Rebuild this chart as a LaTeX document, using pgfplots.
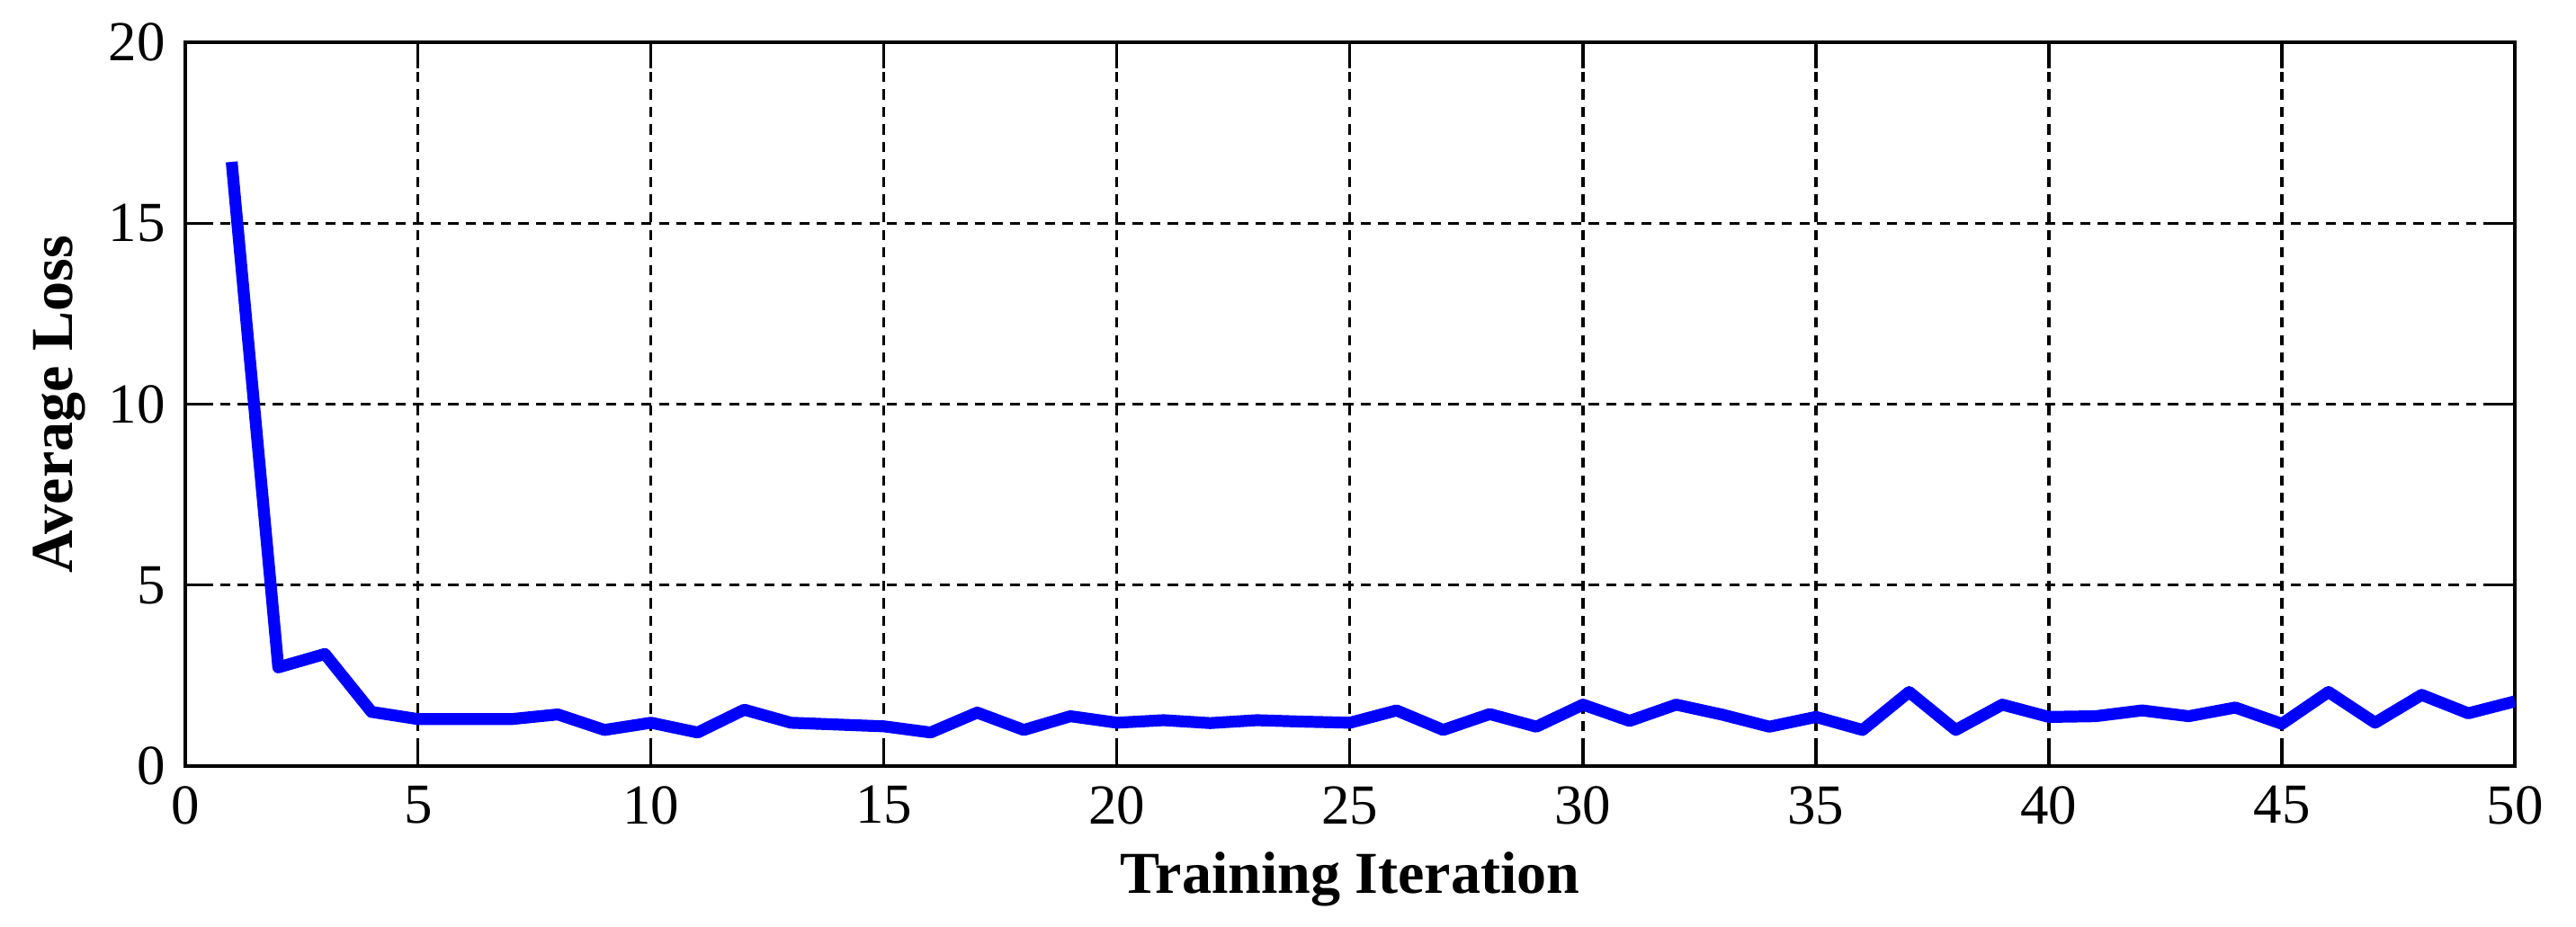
\documentclass[border=0pt]{standalone}
\usepackage{fontspec}
\setmainfont{Liberation Serif}
\usepackage{pgfplots}
\pgfplotsset{compat=1.18}

\pgfplotstableread{
it loss
1 16.7
2 2.73
3 3.10
4 1.50
5 1.30
6 1.30
7 1.30
8 1.43
9 1.00
10 1.20
11 0.93
12 1.56
13 1.20
14 1.15
15 1.10
16 0.93
17 1.48
18 1.00
19 1.38
20 1.20
21 1.27
22 1.19
23 1.27
24 1.23
25 1.20
26 1.54
27 1.00
28 1.44
29 1.09
30 1.70
31 1.25
32 1.70
33 1.42
34 1.09
35 1.36
36 1.00
37 2.05
38 1.00
39 1.70
40 1.36
41 1.38
42 1.54
43 1.38
44 1.62
45 1.17
46 2.05
47 1.20
48 1.97
49 1.46
50 1.79
}\losstable

\begin{document}
\begin{tikzpicture}
  % page size fixed to the reference's margins around the axis box
  \path[use as bounding box] (-32.7pt,-28.4pt) rectangle (422.4pt,135.4pt);
  \begin{axis}[
      scale only axis,
      width=411.6pt, height=127.9pt,
      xmin=0, xmax=50, ymin=0, ymax=20,
      xtick={0,5,...,50}, ytick={0,5,...,20},
      tick align=inside,
      major tick length=4.6pt,
      tick style={black, line width=0.5pt},
      axis line style={black, line width=0.65pt},
      xmajorgrids, ymajorgrids,
      grid style={black, line width=0.5pt, dash pattern=on 1.8pt off 1.3pt},
      ticklabel style={font=\fontsize{10}{12}\selectfont},
      /pgf/number format/assume math mode=true,
      xlabel={Training Iteration},
      ylabel={Average Loss},
      label style={font=\fontsize{10.5}{12}\selectfont\bfseries},
      xlabel style={at={(axis description cs:0.5,0)}, anchor=base, yshift=-22.4pt},
      ylabel style={at={([xshift=-22.2pt]axis description cs:0,0.5)}, anchor=center},
    ]
    \addplot[color={rgb,255:red,0;green,0;blue,255}, line width=2.1pt, line join=round] table[x=it, y=loss] {\losstable};
  \end{axis}
\end{tikzpicture}
\end{document}
